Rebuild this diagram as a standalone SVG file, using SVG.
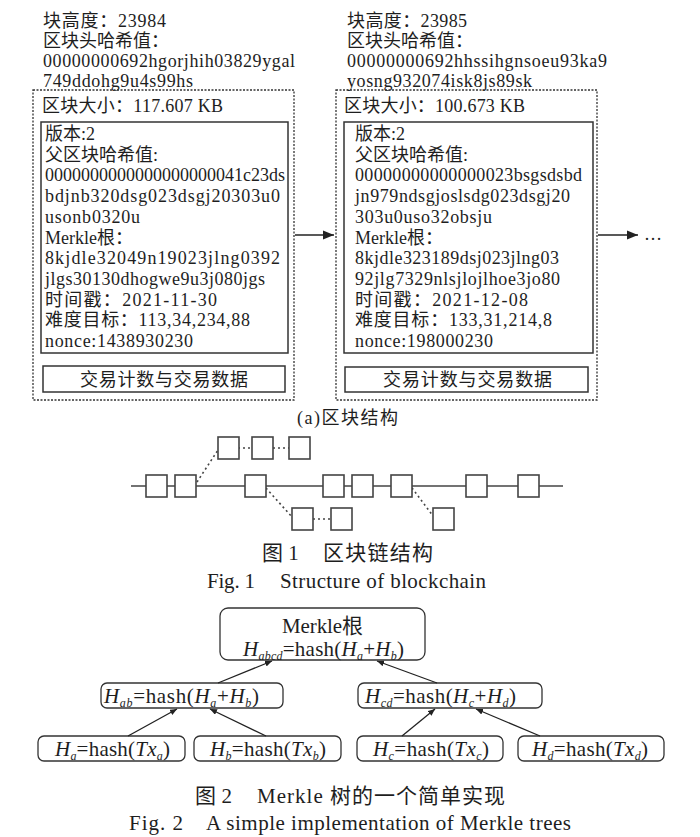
<svg xmlns="http://www.w3.org/2000/svg" width="700" height="837" viewBox="0 0 700 837">
<style>
.t{font-family:"Liberation Serif","Noto Sans CJK SC",serif;font-size:18px;fill:#1e1e1e}
.m{font-family:"Liberation Serif","Noto Sans CJK SC",serif;font-size:21px;fill:#1e1e1e}
.cap{font-family:"Liberation Serif","Noto Sans CJK SC",serif;font-size:21px;fill:#1e1e1e}
.i{font-style:italic}
.s{font-size:12px;font-style:italic}
.outer{fill:none;stroke:#333;stroke-width:1.3;stroke-dasharray:2,1.5}
.inner{fill:none;stroke:#333;stroke-width:1.5}
.blk{fill:#fff;stroke:#444;stroke-width:1.6}
.ln{stroke:#444;stroke-width:1.6;fill:none}
.dot{stroke:#444;stroke-width:1.6;fill:none;stroke-dasharray:2,3}
.node{fill:#fff;stroke:#333;stroke-width:1.3}
.arr{stroke:#222;stroke-width:1.3;fill:none}
</style>
<defs>
<marker id="ah" markerWidth="12" markerHeight="10" refX="11" refY="5" orient="auto" markerUnits="userSpaceOnUse">
<path d="M0,0.5 L11,5 L0,9.5 Z" fill="#222"/>
</marker>
<marker id="sh" markerWidth="8" markerHeight="6" refX="7" refY="3" orient="auto" markerUnits="userSpaceOnUse">
<path d="M0,0 L7,3 L0,6 Z" fill="#222"/>
</marker>
</defs>

<g id="block1">
<text class="t" x="43" y="26.5" textLength="123">块高度：23984</text>
<text class="t" x="43" y="46.5">区块头哈希值：</text>
<text class="t" x="43" y="66.5" textLength="252">00000000692hgorjhih03829ygal</text>
<text class="t" x="43" y="86.5" textLength="150">749ddohg9u4s99hs</text>
<rect class="outer" x="33" y="90" width="261" height="310"/>
<text class="t" x="42" y="111.5" textLength="181">区块大小：117.607 KB</text>
<rect class="inner" x="41" y="122" width="247" height="231"/>
<text class="t" x="45" y="140">版本:2</text>
<text class="t" x="45" y="160.7">父区块哈希值:</text>
<text class="t" x="45" y="181.4" textLength="240">0000000000000000000041c23ds</text>
<text class="t" x="45" y="202" textLength="235">bdjnb320dsg023dsgj20303u0</text>
<text class="t" x="45" y="222.8" textLength="95">usonb0320u</text>
<text class="t" x="45" y="243.5">Merkle根：</text>
<text class="t" x="45" y="264.2" textLength="235">8kjdle32049n19023jlng0392</text>
<text class="t" x="45" y="284.9" textLength="220">jlgs30130dhogwe9u3j080jgs</text>
<text class="t" x="45" y="305.6" textLength="172">时间戳：2021-11-30</text>
<text class="t" x="45" y="326.3" textLength="205">难度目标：113,34,234,88</text>
<text class="t" x="45" y="347" textLength="148">nonce:1438930230</text>
<rect class="inner" x="43" y="366" width="242" height="26"/>
<text class="t" x="80" y="385.5" textLength="168">交易计数与交易数据</text>
</g>

<g id="block2">
<text class="t" x="347" y="26.5" textLength="120">块高度：23985</text>
<text class="t" x="347" y="46.5">区块头哈希值：</text>
<text class="t" x="347" y="66.5" textLength="260">00000000692hhssihgnsoeu93ka9</text>
<text class="t" x="347" y="86.5" textLength="185">yosng932074isk8js89sk</text>
<rect class="outer" x="336" y="90" width="261" height="310"/>
<text class="t" x="344" y="111.5" textLength="181">区块大小：100.673 KB</text>
<rect class="inner" x="344" y="122" width="249" height="231"/>
<text class="t" x="355" y="140">版本:2</text>
<text class="t" x="355" y="160.7">父区块哈希值:</text>
<text class="t" x="355" y="181.4" textLength="227">00000000000000023bsgsdsbd</text>
<text class="t" x="355" y="202" textLength="215">jn979ndsgjoslsdg023dsgj20</text>
<text class="t" x="355" y="222.8" textLength="137">303u0uso32obsju</text>
<text class="t" x="355" y="243.5">Merkle根：</text>
<text class="t" x="355" y="264.2" textLength="204">8kjdle323189dsj023jlng03</text>
<text class="t" x="355" y="284.9" textLength="205">92jlg7329nlsjlojlhoe3jo80</text>
<text class="t" x="355" y="305.6" textLength="173">时间戳：2021-12-08</text>
<text class="t" x="355" y="326.3" textLength="197">难度目标：133,31,214,8</text>
<text class="t" x="355" y="347" textLength="138">nonce:198000230</text>
<rect class="inner" x="345" y="367" width="243" height="25"/>
<text class="t" x="383" y="385.5" textLength="169">交易计数与交易数据</text>
</g>

<g id="block-connectors">
<line class="arr" x1="295" y1="235" x2="334" y2="235" marker-end="url(#ah)"/>
<line class="arr" x1="598" y1="235" x2="638" y2="235" marker-end="url(#ah)"/>
</g>
<text class="t" x="644" y="240">…</text>
<text class="t" x="297" y="424" textLength="101">(a)区块结构</text>

<g id="chain">
<line class="ln" x1="131" y1="486" x2="563" y2="486"/>
<line class="dot" x1="197" y1="482" x2="218" y2="450"/>
<line class="dot" x1="238" y1="448" x2="252" y2="448"/>
<line class="dot" x1="273" y1="448" x2="289" y2="448"/>
<line class="dot" x1="266" y1="488" x2="292" y2="517"/>
<line class="dot" x1="313" y1="519" x2="331" y2="519"/>
<line class="dot" x1="412" y1="488" x2="433" y2="516"/>
<rect class="blk" x="146" y="475" width="21" height="22"/>
<rect class="blk" x="175" y="475" width="21" height="22"/>
<rect class="blk" x="245" y="475" width="21" height="22"/>
<rect class="blk" x="323" y="475" width="21" height="22"/>
<rect class="blk" x="352" y="475" width="21" height="22"/>
<rect class="blk" x="391" y="475" width="21" height="22"/>
<rect class="blk" x="466" y="475" width="21" height="22"/>
<rect class="blk" x="518" y="475" width="21" height="22"/>
<rect class="blk" x="218" y="437" width="21" height="22"/>
<rect class="blk" x="252" y="437" width="21" height="22"/>
<rect class="blk" x="289" y="437" width="21" height="22"/>
<rect class="blk" x="292" y="508" width="21" height="22"/>
<rect class="blk" x="331" y="508" width="21" height="22"/>
<rect class="blk" x="433" y="508" width="21" height="22"/>
</g>
<text class="cap" x="262" y="560">图 1</text>
<text class="cap" x="323" y="560" textLength="110">区块链结构</text>
<text class="cap" x="207" y="588" font-size="20" textLength="48">Fig. 1</text>
<text class="cap" x="280" y="588" font-size="20" textLength="206">Structure of blockchain</text>

<g id="root">
<rect class="node" x="220" y="608" width="205" height="52" rx="8"/>
<text class="m" x="282" y="633" textLength="81">Merkle根</text>
<text class="m" x="243" y="656" textLength="161"><tspan class="i">H</tspan><tspan class="s" dy="4">abcd</tspan><tspan dy="-4">=hash(</tspan><tspan class="i">H</tspan><tspan class="s" dy="4">a</tspan><tspan dy="-4">+</tspan><tspan class="i">H</tspan><tspan class="s" dy="4">b</tspan><tspan dy="-4">)</tspan></text>
</g>
<g id="hab">
<rect class="node" x="101" y="683" width="182" height="25" rx="6"/>
<text class="m" x="104" y="703" textLength="155"><tspan class="i">H</tspan><tspan class="s" dy="4">ab</tspan><tspan dy="-4">=hash(</tspan><tspan class="i">H</tspan><tspan class="s" dy="4">a</tspan><tspan dy="-4">+</tspan><tspan class="i">H</tspan><tspan class="s" dy="4">b</tspan><tspan dy="-4">)</tspan></text>
</g>
<g id="hcd">
<rect class="node" x="358" y="683" width="184" height="25" rx="6"/>
<text class="m" x="365" y="703" textLength="151"><tspan class="i">H</tspan><tspan class="s" dy="4">cd</tspan><tspan dy="-4">=hash(</tspan><tspan class="i">H</tspan><tspan class="s" dy="4">c</tspan><tspan dy="-4">+</tspan><tspan class="i">H</tspan><tspan class="s" dy="4">d</tspan><tspan dy="-4">)</tspan></text>
</g>
<g id="ha">
<rect class="node" x="38" y="736" width="147" height="25" rx="6"/>
<text class="m" x="55" y="756" textLength="115"><tspan class="i">H</tspan><tspan class="s" dy="4">a</tspan><tspan dy="-4">=hash(</tspan><tspan class="i">Tx</tspan><tspan class="s" dy="4">a</tspan><tspan dy="-4">)</tspan></text>
</g>
<g id="hb">
<rect class="node" x="194" y="736" width="147" height="25" rx="6"/>
<text class="m" x="210" y="756" textLength="116"><tspan class="i">H</tspan><tspan class="s" dy="4">b</tspan><tspan dy="-4">=hash(</tspan><tspan class="i">Tx</tspan><tspan class="s" dy="4">b</tspan><tspan dy="-4">)</tspan></text>
</g>
<g id="hc">
<rect class="node" x="357" y="736" width="146" height="25" rx="6"/>
<text class="m" x="373" y="756" textLength="116"><tspan class="i">H</tspan><tspan class="s" dy="4">c</tspan><tspan dy="-4">=hash(</tspan><tspan class="i">Tx</tspan><tspan class="s" dy="4">c</tspan><tspan dy="-4">)</tspan></text>
</g>
<g id="hd">
<rect class="node" x="518" y="736" width="146" height="25" rx="6"/>
<text class="m" x="532" y="756" textLength="116"><tspan class="i">H</tspan><tspan class="s" dy="4">d</tspan><tspan dy="-4">=hash(</tspan><tspan class="i">Tx</tspan><tspan class="s" dy="4">d</tspan><tspan dy="-4">)</tspan></text>
</g>
<g id="merkle-connectors">
<line class="arr" x1="218" y1="683" x2="272" y2="661" marker-end="url(#sh)"/>
<line class="arr" x1="437" y1="683" x2="377" y2="661" marker-end="url(#sh)"/>
<line class="arr" x1="128" y1="736" x2="177" y2="709" marker-end="url(#sh)"/>
<line class="arr" x1="266" y1="736" x2="210" y2="709" marker-end="url(#sh)"/>
<line class="arr" x1="402" y1="736" x2="435" y2="709" marker-end="url(#sh)"/>
<line class="arr" x1="540" y1="736" x2="476" y2="709" marker-end="url(#sh)"/>
</g>
<text class="cap" x="195" y="803" textLength="37">图 2</text>
<text class="cap" x="257" y="803" textLength="248">Merkle 树的一个简单实现</text>
<text class="cap" x="129" y="830" font-size="20" textLength="54">Fig. 2</text>
<text class="cap" x="206" y="830" font-size="20" textLength="365">A simple implementation of Merkle trees</text>
</svg>
